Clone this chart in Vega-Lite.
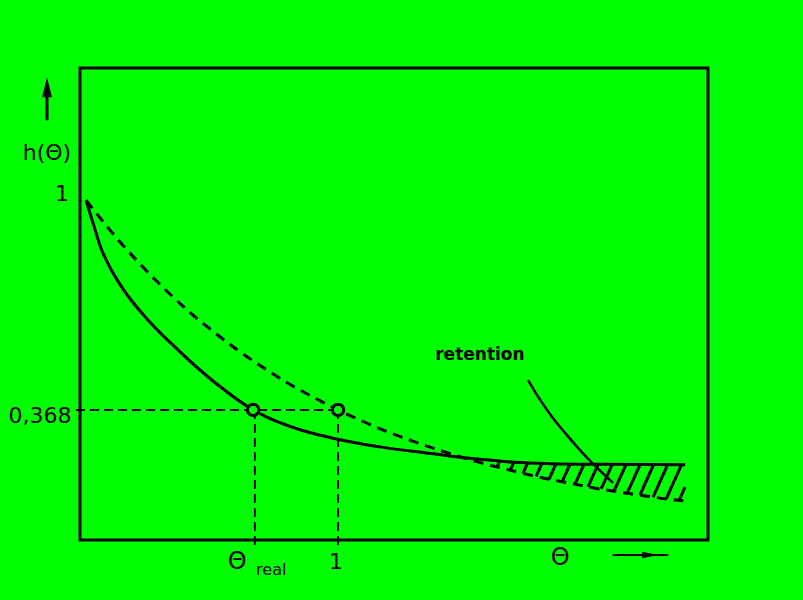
{
  "$schema": "https://vega.github.io/schema/vega-lite/v6.json",
  "autosize": "none",
  "width": 628,
  "height": 472,
  "padding": {"left": 80, "top": 68, "right": 95, "bottom": 60},
  "background": "#00ff00",
  "config": {"view": {"stroke": "#000000", "strokeWidth": 3, "fill": "#00ff00"}},
  "datasets": {
    "dashed": [
      {"t": 0, "h": 1.0}, {"t": 0.1, "h": 0.905}, {"t": 0.2, "h": 0.819}, {"t": 0.3, "h": 0.741},
      {"t": 0.4, "h": 0.67}, {"t": 0.5, "h": 0.607}, {"t": 0.6, "h": 0.549}, {"t": 0.7, "h": 0.497},
      {"t": 0.8, "h": 0.449}, {"t": 0.9, "h": 0.407}, {"t": 1.0, "h": 0.368}, {"t": 1.1, "h": 0.333},
      {"t": 1.2, "h": 0.301}, {"t": 1.3, "h": 0.273}, {"t": 1.4, "h": 0.247}, {"t": 1.5, "h": 0.223},
      {"t": 1.6, "h": 0.202}, {"t": 1.7, "h": 0.183}, {"t": 1.8, "h": 0.165}, {"t": 1.9, "h": 0.15},
      {"t": 2.0, "h": 0.135}, {"t": 2.1, "h": 0.122}, {"t": 2.2, "h": 0.111}, {"t": 2.3, "h": 0.1},
      {"t": 2.37, "h": 0.094}
    ],
    "solid": [
      {"t": 0, "h": 1.0}, {"t": 0.03, "h": 0.925}, {"t": 0.056, "h": 0.862}, {"t": 0.1, "h": 0.79},
      {"t": 0.147, "h": 0.732}, {"t": 0.254, "h": 0.632}, {"t": 0.373, "h": 0.543}, {"t": 0.504, "h": 0.455},
      {"t": 0.663, "h": 0.368}, {"t": 0.718, "h": 0.346}, {"t": 0.849, "h": 0.308}, {"t": 1.008, "h": 0.278},
      {"t": 1.179, "h": 0.255}, {"t": 1.377, "h": 0.236}, {"t": 1.512, "h": 0.223}, {"t": 1.563, "h": 0.219},
      {"t": 1.7, "h": 0.21}, {"t": 1.841, "h": 0.206}, {"t": 2.04, "h": 0.204}, {"t": 2.377, "h": 0.203}
    ],
    "hatch": [
      {"t": 1.631, "h": 0.196, "t2": 1.641, "h2": 0.212},
      {"t": 1.683, "h": 0.186, "t2": 1.697, "h2": 0.21},
      {"t": 1.734, "h": 0.177, "t2": 1.753, "h2": 0.209},
      {"t": 1.786, "h": 0.168, "t2": 1.809, "h2": 0.207},
      {"t": 1.837, "h": 0.159, "t2": 1.865, "h2": 0.206},
      {"t": 1.889, "h": 0.151, "t2": 1.921, "h2": 0.205},
      {"t": 1.94, "h": 0.144, "t2": 1.977, "h2": 0.205},
      {"t": 1.992, "h": 0.136, "t2": 2.032, "h2": 0.204},
      {"t": 2.044, "h": 0.13, "t2": 2.088, "h2": 0.204},
      {"t": 2.095, "h": 0.123, "t2": 2.143, "h2": 0.204},
      {"t": 2.147, "h": 0.117, "t2": 2.199, "h2": 0.204},
      {"t": 2.198, "h": 0.111, "t2": 2.252, "h2": 0.203},
      {"t": 2.25, "h": 0.105, "t2": 2.308, "h2": 0.203},
      {"t": 2.302, "h": 0.1, "t2": 2.363, "h2": 0.203},
      {"t": 2.353, "h": 0.095, "t2": 2.377, "h2": 0.135}
    ],
    "guides": [
      {"t": -0.04, "h": 0.368, "t2": 1.0, "h2": 0.368},
      {"t": 0.67, "h": 0.368, "t2": 0.67, "h2": -0.045},
      {"t": 1.0, "h": 0.368, "t2": 1.0, "h2": -0.045}
    ],
    "circles": [{"t": 0.663, "h": 0.368}, {"t": 1.0, "h": 0.368}],
    "arrowcurve": [
      {"o": 1, "t": 1.754, "h": 0.458}, {"o": 2, "t": 1.802, "h": 0.398}, {"o": 3, "t": 1.853, "h": 0.343},
      {"o": 4, "t": 1.905, "h": 0.295}, {"o": 5, "t": 1.96, "h": 0.247}, {"o": 6, "t": 2.008, "h": 0.208},
      {"o": 7, "t": 2.091, "h": 0.148}
    ],
    "arrows": [
      {"t": -0.155, "h": 1.24, "t2": -0.155, "h2": 1.33, "w": 3},
      {"t": 2.09, "h": -0.069, "t2": 2.31, "h2": -0.069, "w": 2}
    ],
    "heads": [
      {"t": -0.155, "h": 1.34, "s": "M0,-1L0.5,1L-0.5,1Z", "sz": 400},
      {"t": 2.238, "h": -0.069, "s": "M1,0L-1,-0.4L-1,0.4Z", "sz": 256}
    ],
    "labels": [
      {"t": -0.155, "h": 1.142, "txt": "h(Θ)", "fs": 22},
      {"t": -0.095, "h": 1.018, "txt": "1", "fs": 22},
      {"t": -0.183, "h": 0.35, "txt": "0,368", "fs": 22},
      {"t": 0.6, "h": -0.09, "txt": "Θ", "fs": 24},
      {"t": 0.735, "h": -0.115, "txt": "real", "fs": 16},
      {"t": 0.992, "h": -0.09, "txt": "1", "fs": 22},
      {"t": 1.881, "h": -0.078, "txt": "Θ", "fs": 24}
    ],
    "boldlabels": [
      {"t": 1.563, "h": 0.533, "txt": "retention"}
    ]
  },
  "encoding": {
    "x": {"field": "t", "type": "quantitative", "scale": {"domain": [-0.024, 2.468], "nice": false, "zero": false}, "axis": null},
    "y": {"field": "h", "type": "quantitative", "scale": {"domain": [-0.024, 1.398], "nice": false, "zero": false}, "axis": null}
  },
  "layer": [
    {"data": {"name": "guides"}, "mark": {"type": "rule", "color": "black", "strokeWidth": 2, "strokeDash": [9, 5]},
     "encoding": {"x2": {"field": "t2"}, "y2": {"field": "h2"}}},
    {"data": {"name": "hatch"}, "mark": {"type": "rule", "color": "black", "strokeWidth": 3},
     "encoding": {"x2": {"field": "t2"}, "y2": {"field": "h2"}}},
    {"data": {"name": "dashed"}, "mark": {"type": "line", "color": "black", "strokeWidth": 3, "strokeDash": [10, 7], "interpolate": "monotone"},
     "encoding": {}},
    {"data": {"name": "solid"}, "mark": {"type": "line", "color": "black", "strokeWidth": 3, "interpolate": "monotone"},
     "encoding": {}},
    {"data": {"name": "arrowcurve"}, "mark": {"type": "line", "color": "black", "strokeWidth": 2.5, "interpolate": "monotone"},
     "encoding": {"order": {"field": "o", "type": "quantitative"}}},
    {"data": {"name": "circles"}, "mark": {"type": "point", "shape": "circle", "size": 130, "filled": false, "fill": "#00ff00", "fillOpacity": 1, "stroke": "black", "strokeWidth": 3, "opacity": 1}},
    {"data": {"name": "arrows"}, "mark": {"type": "rule", "color": "black", "clip": false},
     "encoding": {"x2": {"field": "t2"}, "y2": {"field": "h2"}, "strokeWidth": {"field": "w", "type": "quantitative", "scale": null}}},
    {"data": {"name": "heads"}, "mark": {"type": "point", "filled": true, "color": "black", "opacity": 1, "clip": false},
     "encoding": {"shape": {"field": "s", "type": "nominal", "scale": null}, "size": {"field": "sz", "type": "quantitative", "scale": null}}},
    {"data": {"name": "labels"}, "mark": {"type": "text", "font": "DejaVu Sans", "color": "black", "align": "center", "baseline": "middle", "clip": false},
     "encoding": {"text": {"field": "txt"}, "size": {"field": "fs", "type": "quantitative", "scale": null}}},
    {"data": {"name": "boldlabels"}, "mark": {"type": "text", "font": "DejaVu Sans", "fontWeight": "bold", "fontSize": 17, "color": "black", "align": "center", "baseline": "middle", "clip": false},
     "encoding": {"text": {"field": "txt"}}}
  ]
}
